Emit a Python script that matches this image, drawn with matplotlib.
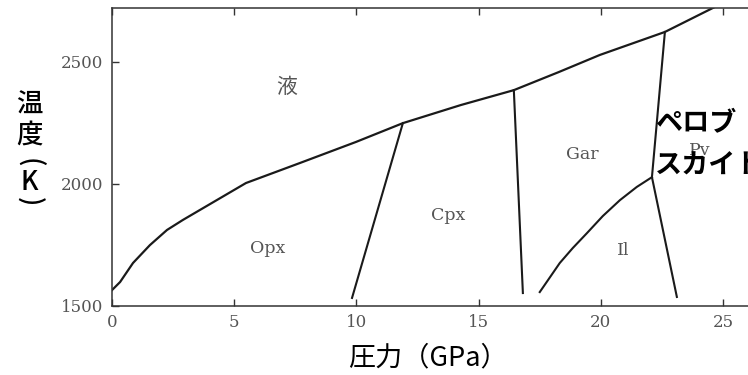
import matplotlib.pyplot as plt

plt.rcParams['font.family'] = ['Noto Sans CJK JP', 'DejaVu Sans']

# solidus / liquidus boundary (GPa, K)
solidus_p = [0, 0.33, 0.86, 1.55, 2.25, 2.9, 3.6, 5.48, 7.69, 9.98, 11.9, 14.27, 16.44, 18.28, 19.96, 22.62, 24.66]
solidus_t = [1565, 1598, 1676, 1749, 1811, 1852, 1893, 2003, 2085, 2171, 2248, 2322, 2383, 2457, 2527, 2621, 2723]

# phase boundaries below the solidus
opx_cpx_p = [11.9, 9.82]
opx_cpx_t = [2248, 1533]
cpx_gar_p = [16.44, 16.81]
cpx_gar_t = [2383, 1553]
gar_il_p = [17.5, 17.9, 18.32, 18.85, 19.43, 20.08, 20.78, 21.47, 22.09]
gar_il_t = [1557, 1615, 1676, 1737, 1798, 1868, 1933, 1987, 2027]
pv_p = [22.62, 22.09, 23.11]
pv_t = [2621, 2027, 1537]

phase_names = ['Opx', 'Cpx', 'Gar', 'Il', 'Pv']
phase_p = [6.38, 13.74, 19.26, 20.9, 24.05]
phase_t = [1737, 1872, 2118, 1729, 2138]
liquid_p, liquid_t = 7.16, 2396

x_ticks = [0, 5, 10, 15, 20, 25]
y_ticks = [1500, 2000, 2500]

fig = plt.figure(figsize=(7.48, 3.75), dpi=100)
ax = fig.add_axes([112/748, 1-306/375, 1-112/748, 298/375])
ax.set_xlim(0, 26.02)
ax.set_ylim(1500, 2719)

lc = '#1a1a1a'
ax.plot(solidus_p, solidus_t, color=lc, lw=1.6)
for p, t in [(opx_cpx_p, opx_cpx_t), (cpx_gar_p, cpx_gar_t),
             (gar_il_p, gar_il_t), (pv_p, pv_t)]:
    ax.plot(p, t, color=lc, lw=1.5)

for name, p, t in zip(phase_names, phase_p, phase_t):
    ax.text(p, t, name, family='DejaVu Serif', fontsize=12.5,
            color='#555555', ha='center', va='center')
ax.text(liquid_p, liquid_t, '液', fontsize=15, color='#555555',
        ha='center', va='center')

ax.spines['right'].set_visible(False)
for s in ['left', 'bottom', 'top']:
    ax.spines[s].set_color('#333333')
    ax.spines[s].set_linewidth(1.1)

ax.set_xticks(x_ticks)
ax.set_yticks(y_ticks)
ax.tick_params(direction='in', length=5, width=1, color='#333333',
               top=True, labelsize=12, labelcolor='#555555', pad=6)
for lab in ax.get_xticklabels() + ax.get_yticklabels():
    lab.set_family('DejaVu Serif')

# axis titles
fig.text(428/748, 1-358/375, '圧力（GPa）', fontsize=19.5,
         ha='center', va='center')

# vertical y title: characters stacked, brackets turned sideways
ylab_chars = ['温', '度', '(', 'K', ')']
ylab_y = [105, 135, 163, 182, 202]
ylab_rot = [0, 0, -90, 0, -90]
for ch, y, r in zip(ylab_chars, ylab_y, ylab_rot):
    fig.text(29/748, 1-y/375, ch, fontsize=19, rotation=r,
             weight='medium', ha='center', va='center')

fig.text(655/748, 1-123/375, 'ペロブ', fontsize=19.5, weight='bold',
         ha='left', va='center')
fig.text(655/748, 1-166/375, 'スカイト', fontsize=19.5, weight='bold',
         ha='left', va='center')

fig.savefig('out.png', dpi=100)
